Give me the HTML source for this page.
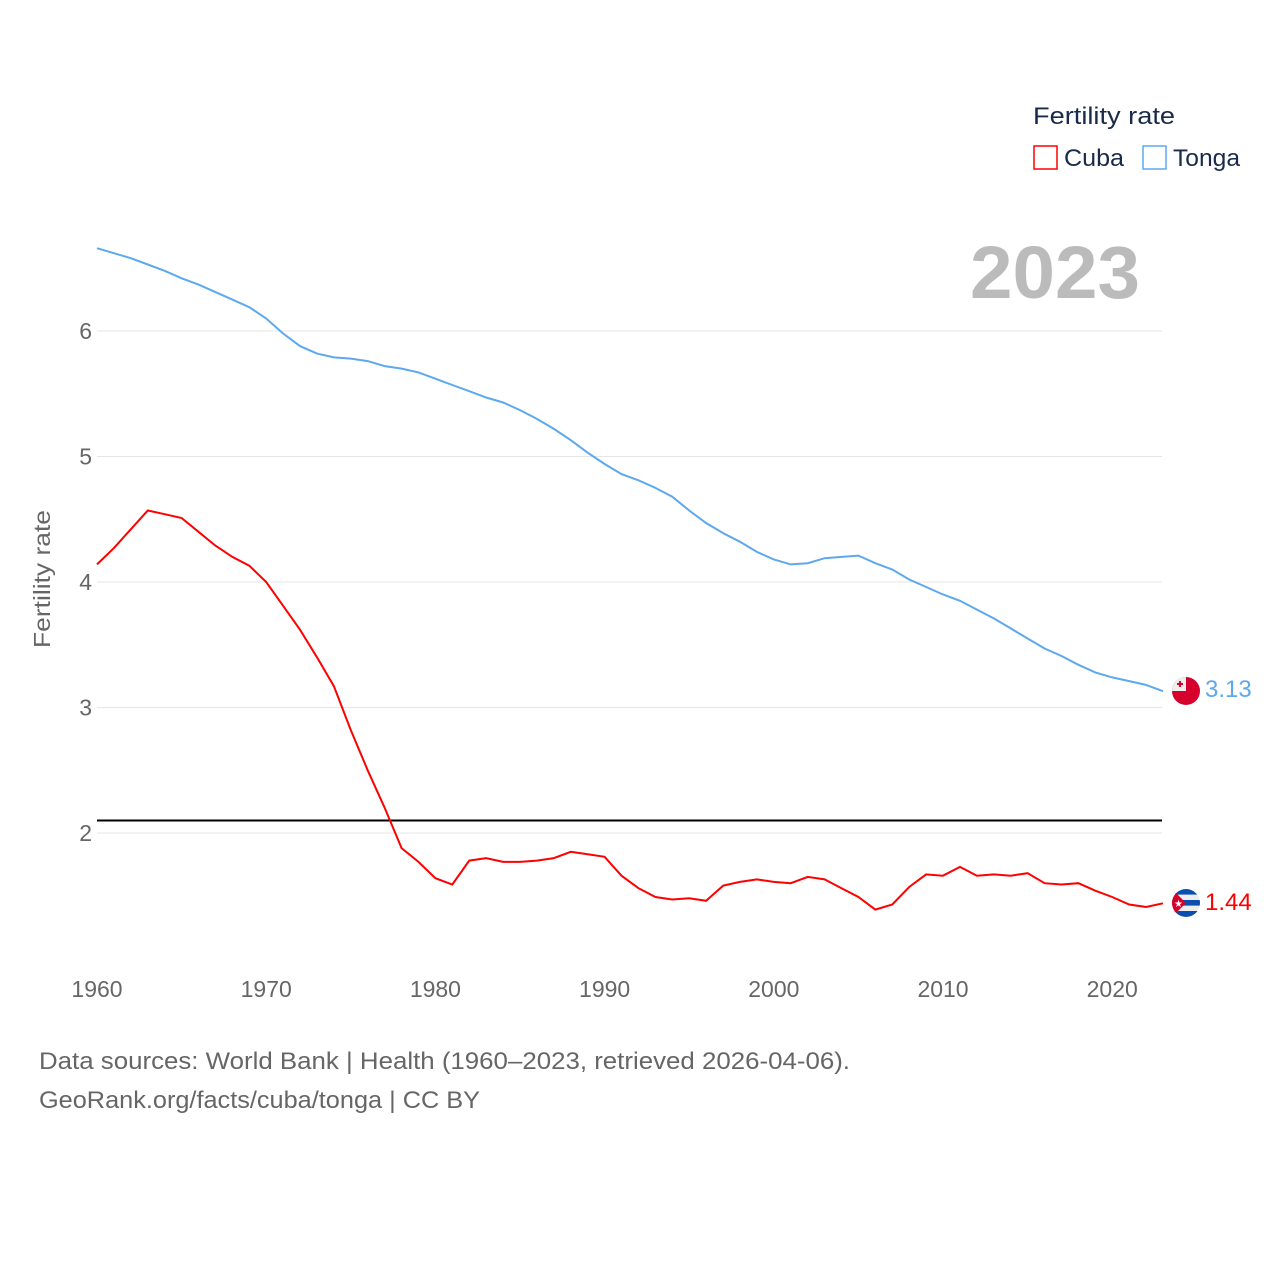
<!DOCTYPE html>
<html><head><meta charset="utf-8"><style>
body{margin:0;background:#fff;font-family:"Liberation Sans",sans-serif}
svg{display:block}
</style></head><body>
<svg id="c" width="1280" height="1280">
<defs>
<clipPath id="fc1"><circle cx="1186" cy="691" r="14"/></clipPath>
<clipPath id="fc2"><circle cx="1186" cy="903" r="14"/></clipPath>
</defs>
<g id="grid"></g>
<g id="xt"></g>
<text transform="translate(50,579) rotate(-90)" text-anchor="middle" font-size="23" fill="#666" textLength="138" lengthAdjust="spacingAndGlyphs">Fertility rate</text>
<text x="1140" y="298" text-anchor="end" font-size="74" font-weight="bold" fill="#bbb" textLength="170" lengthAdjust="spacingAndGlyphs">2023</text>
<text x="1033" y="124" font-size="24" fill="#1a2a4a" textLength="142" lengthAdjust="spacingAndGlyphs">Fertility rate</text>
<g><rect x="1034" y="146" width="23" height="23" fill="none" stroke="#f00" stroke-width="1.5"/><text x="1064" y="166" font-size="24" fill="#1a2a4a" textLength="60" lengthAdjust="spacingAndGlyphs">Cuba</text></g>
<g><rect x="1143" y="146" width="23" height="23" fill="none" stroke="#5da8ee" stroke-width="1.5"/><text x="1173" y="166" font-size="24" fill="#1a2a4a" textLength="67" lengthAdjust="spacingAndGlyphs">Tonga</text></g>
<g id="series"></g>
<g clip-path="url(#fc1)"><rect x="1172" y="677" width="28" height="28" fill="#d5002b"/><rect x="1172" y="677" width="14" height="14" fill="#eee"/><rect x="1177" y="683" width="6" height="2" fill="#d5002b"/><rect x="1179" y="681" width="2" height="6" fill="#d5002b"/></g>
<g clip-path="url(#fc2)"><rect x="1172" y="889" width="28" height="28" fill="#eee"/><rect x="1172" y="889" width="28" height="5.6" fill="#0a4fb0"/><rect x="1172" y="900" width="28" height="5.6" fill="#0a4fb0"/><rect x="1172" y="911" width="28" height="6" fill="#0a4fb0"/><polygon points="1172,889 1186,903 1172,917" fill="#d5002b"/><text x="1174" y="907" font-size="10" fill="#fff">★</text></g>
<text x="1205" y="697" font-size="24" fill="#5da8ee">3.13</text>
<text x="1205" y="910" font-size="24" fill="#f00">1.44</text>
<text x="39" y="1069" font-size="24" fill="#666" textLength="811" lengthAdjust="spacingAndGlyphs">Data sources: World Bank | Health (1960–2023, retrieved 2026-04-06).</text>
<text x="39" y="1108" font-size="24" fill="#666" textLength="441" lengthAdjust="spacingAndGlyphs">GeoRank.org/facts/cuba/tonga | CC BY</text>
</svg>
<script>
const years=[];for(let y=1960;y<=2023;y++)years.push(y);
const tonga=[6.66,6.62,6.58,6.53,6.48,6.42,6.37,6.31,6.25,6.19,6.10,5.98,5.88,5.82,5.79,5.78,5.76,5.72,5.70,5.67,5.62,5.57,5.52,5.47,5.43,5.37,5.30,5.22,5.13,5.03,4.94,4.86,4.81,4.75,4.68,4.57,4.47,4.39,4.32,4.24,4.18,4.14,4.15,4.19,4.20,4.21,4.15,4.10,4.02,3.96,3.90,3.85,3.78,3.71,3.63,3.55,3.47,3.41,3.34,3.28,3.24,3.21,3.18,3.13];
const cuba=[4.14,4.27,4.42,4.57,4.54,4.51,4.40,4.29,4.20,4.13,4.00,3.81,3.62,3.40,3.17,2.82,2.50,2.20,1.88,1.77,1.64,1.59,1.78,1.80,1.77,1.77,1.78,1.80,1.85,1.83,1.81,1.66,1.56,1.49,1.47,1.48,1.46,1.58,1.61,1.63,1.61,1.60,1.65,1.63,1.56,1.49,1.39,1.43,1.57,1.67,1.66,1.73,1.66,1.67,1.66,1.68,1.60,1.59,1.60,1.54,1.49,1.43,1.41,1.44];
const yTicks=[2,3,4,5,6];
const xTicks=[1960,1970,1980,1990,2000,2010,2020];
const replacement=2.1;
const X=v=>97+(v-1960)*(1163-97)/63;
const Y=v=>1084-v*125.5;
const NS="http://www.w3.org/2000/svg";
function mk(t,a,p){const e=document.createElementNS(NS,t);for(const k in a)e.setAttribute(k,a[k]);p.appendChild(e);return e;}
const g=document.getElementById('grid');
yTicks.forEach(t=>{
const l=mk('line',{x1:97,x2:1162,y1:Y(t),y2:Y(t),stroke:'#e6e6e6','stroke-width':1},g);


const tx=mk('text',{x:92,y:Y(t)+8,'text-anchor':'end','font-size':23,fill:'#666'},g);tx.textContent=t;


});
const xt=document.getElementById('xt');
xTicks.forEach(t=>{
const tx=mk('text',{x:X(t),y:997,'text-anchor':'middle','font-size':23,fill:'#666'},xt);tx.textContent=t;


});
const s=document.getElementById('series');
const rl=mk('line',{x1:97,x2:1162,y1:Y(replacement),y2:Y(replacement),stroke:'#000','stroke-width':2},s);


function line(d,c,n){
const p=mk('path',{d:d.map((v,i)=>(i?'L':'M')+X(years[i]).toFixed(1)+','+Y(v).toFixed(1)).join(''),fill:'none',stroke:c,'stroke-width':2},s);


}
line(tonga,'#5da8ee','tonga-line');
line(cuba,'#f00','cuba-line');
</script>
</body></html>
